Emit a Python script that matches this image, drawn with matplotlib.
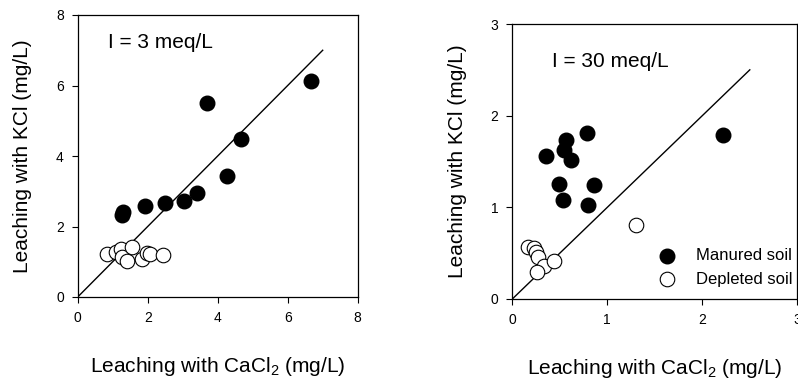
import matplotlib
matplotlib.use("Agg")
import matplotlib.pyplot as plt

plt.rcParams['font.family'] = ['Liberation Sans', 'DejaVu Sans']

# I = 3 meq/L
man3_x = [1.26, 1.30, 1.92, 2.50, 3.05, 3.40, 3.69, 4.26, 4.66, 6.66]
man3_y = [2.33, 2.40, 2.59, 2.66, 2.73, 2.94, 5.51, 3.43, 4.47, 6.13]
dep3_x = [0.83, 1.10, 1.23, 1.26, 1.42, 1.56, 1.83, 1.97, 2.07, 2.45]
dep3_y = [1.22, 1.29, 1.35, 1.14, 1.01, 1.42, 1.09, 1.24, 1.21, 1.20]

# I = 30 meq/L
man30_x = [0.35, 0.49, 0.53, 0.54, 0.57, 0.62, 0.79, 0.80, 0.86, 2.22]
man30_y = [1.56, 1.25, 1.08, 1.63, 1.74, 1.52, 1.81, 1.03, 1.24, 1.79]
dep30_x = [0.16, 0.23, 0.25, 0.27, 0.33, 0.26, 0.44, 1.30]
dep30_y = [0.57, 0.56, 0.51, 0.46, 0.36, 0.30, 0.41, 0.81]

W, H = 798, 385
fig = plt.figure(figsize=(W / 100, H / 100), dpi=100)


def box(l, t, r, b):
    return [l / W, (H - b) / H, (r - l) / W, (b - t) / H]


def style(ax, lim, ticks):
    ax.set_xlim(0, lim)
    ax.set_ylim(0, lim)
    ax.set_xticks(ticks)
    ax.set_yticks(ticks)
    ax.tick_params(direction='out', length=4, width=0.8, labelsize=10,
                   top=False, right=False, pad=6)
    for s in ax.spines.values():
        s.set_linewidth(0.9)
    ax.set_xlabel('Leaching with CaCl$_\\mathregular{2}$ (mg/L)', fontsize=15, labelpad=22)
    ax.set_ylabel('Leaching with KCl (mg/L)', fontsize=15, labelpad=17)


ax1 = fig.add_axes(box(77.7, 15, 357.7, 297))
ax1.plot([0, 7], [0, 7], color='black', lw=1)
ax1.scatter(man3_x, man3_y, s=110, c='black', edgecolors='black', zorder=3)
ax1.scatter(dep3_x, dep3_y, s=110, c='white', edgecolors='black', linewidths=0.8, zorder=3)
style(ax1, 8, [0, 2, 4, 6, 8])
ax1.text(0.87, 7.05, 'I = 3 meq/L', fontsize=15)

ax2 = fig.add_axes(box(512.3, 24, 797.3, 299))
ax2.plot([0, 2.5], [0, 2.5], color='black', lw=1)
ax2.scatter(man30_x, man30_y, s=110, c='black', edgecolors='black', zorder=3,
            label='Manured soil')
ax2.scatter(dep30_x, dep30_y, s=110, c='white', edgecolors='black', linewidths=0.8,
            zorder=3, label='Depleted soil')
style(ax2, 3, [0, 1, 2, 3])
ax2.text(0.415, 2.53, 'I = 30 meq/L', fontsize=15)
ax2.legend(loc='center left', bbox_to_anchor=(0.462, 0.115), frameon=False, fontsize=12,
           handletextpad=0.7, labelspacing=0.5, borderaxespad=0)

fig.savefig('out.png', dpi=100)
